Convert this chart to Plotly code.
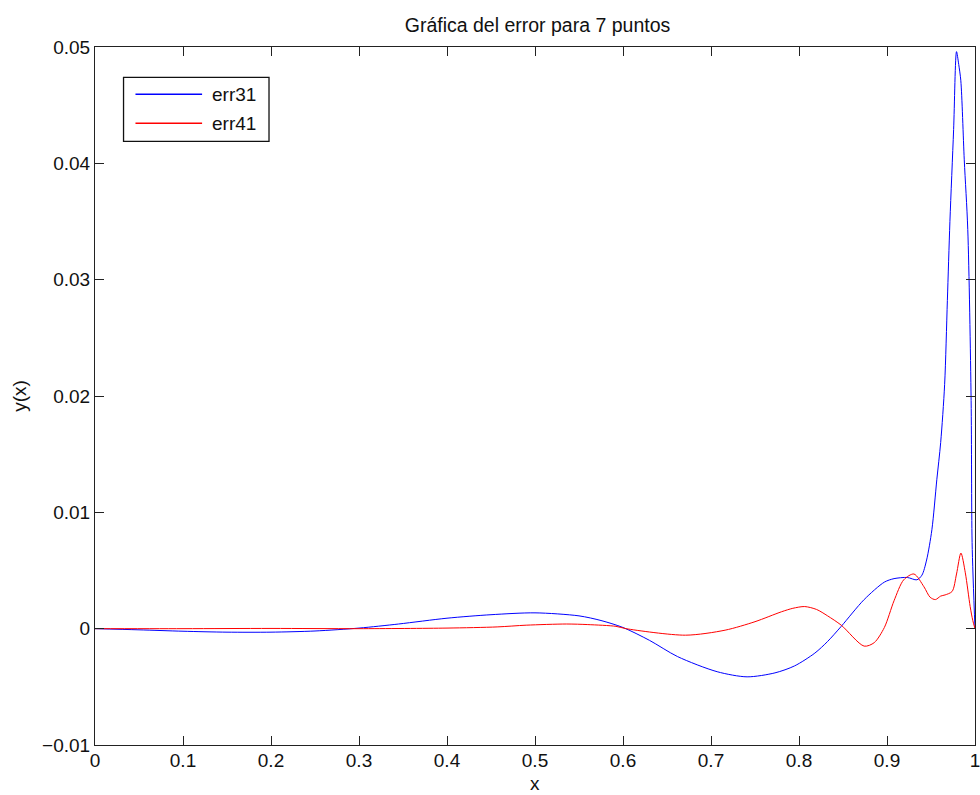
import plotly.graph_objects as go

# Error curves for the 7-point interpolation
x_err31 = [0.0, 0.05, 0.10, 0.15, 0.20, 0.25, 0.30, 0.345, 0.40, 0.45, 0.50, 0.55,
           0.575, 0.60, 0.63, 0.662, 0.707, 0.741, 0.7727, 0.795, 0.818, 0.8325,
           0.848, 0.874, 0.897, 0.908, 0.923, 0.934, 0.9397, 0.945, 0.951, 0.9566,
           0.961, 0.9655, 0.9686, 0.9715, 0.9757, 0.979, 0.9815, 0.9839,
           0.9878, 0.9918, 0.9956, 0.9967, 1.0]
y_err31 = [0.0, -0.0001, -0.00022, -0.0003, -0.0003, -0.0002, 0.00005, 0.0004, 0.0009,
           0.0012, 0.00136, 0.0011, 0.0007, 0.0001, -0.0010, -0.0024, -0.0037,
           -0.00414, -0.0038, -0.0032, -0.0021, -0.0011, 0.0002, 0.0025, 0.0040,
           0.0043, 0.0044, 0.0042, 0.0046, 0.0059, 0.0085, 0.0128, 0.0160, 0.0210,
           0.0282, 0.0350, 0.0429, 0.0496, 0.0485, 0.0471, 0.0403, 0.0343,
           0.0196, 0.0074, 0.0]

x_err41 = [0.0, 0.1, 0.2, 0.3, 0.4, 0.457, 0.49, 0.536, 0.56, 0.592, 0.6035, 0.671,
           0.716, 0.75, 0.78, 0.793, 0.8065, 0.82, 0.8325, 0.848, 0.874, 0.8855,
           0.897, 0.908, 0.919, 0.9306, 0.942, 0.949, 0.955, 0.961, 0.966, 0.974,
           0.979, 0.984, 0.989, 0.9945, 0.9975, 1.0]
y_err41 = [0.0, 0.0, 0.00002, 0.0, 0.00005, 0.00015, 0.0003, 0.0004, 0.00035, 0.0002,
           0.0, -0.00056, -0.00013, 0.0006, 0.00145, 0.00175, 0.0019, 0.00165, 0.0011,
           0.0003, -0.0015, -0.0012, 0.0001, 0.0024, 0.0042, 0.0047, 0.0036, 0.0027,
           0.0025, 0.0028, 0.0029, 0.0032, 0.0047, 0.0065, 0.0048, 0.0019, 0.0007, 0.0]

names = ["err31", "err41"]
colors = ["#0000ff", "#ff0000"]

x_ticks = [0, 0.1, 0.2, 0.3, 0.4, 0.5, 0.6, 0.7, 0.8, 0.9, 1]
x_tick_text = ["0", "0.1", "0.2", "0.3", "0.4", "0.5", "0.6", "0.7", "0.8", "0.9", "1"]
y_ticks = [-0.01, 0, 0.01, 0.02, 0.03, 0.04, 0.05]
y_tick_text = ["\u22120.01", "0", "0.01", "0.02", "0.03", "0.04", "0.05"]

W, H = 980, 795
L, R, T, B = 95, 0, 47, 50
FONT = "Liberation Sans, Arial, sans-serif"
TXT = "#111111"

fig = go.Figure()
for xs, ys, nm, c in [(x_err31, y_err31, names[0], colors[0]),
                      (x_err41, y_err41, names[1], colors[1])]:
    fig.add_trace(go.Scatter(x=xs, y=ys, mode="lines", name=nm,
                             line=dict(color=c, width=1, shape="spline", smoothing=0.8),
                             showlegend=False))

axis_common = dict(showline=True, linecolor="#222222", linewidth=1, mirror="ticks",
                   ticks="inside", ticklen=9, tickcolor="#222222", tickwidth=1,
                   showgrid=False, zeroline=False, ticklabeloverflow="allow",
                   tickfont=dict(family=FONT, size=19, color=TXT))

fig.update_xaxes(range=[0, 1], tickvals=x_ticks, ticktext=x_tick_text,
                 ticklabelstandoff=-2, **axis_common)
fig.update_yaxes(range=[-0.01, 0.05], tickvals=y_ticks, ticktext=y_tick_text,
                 title=dict(text="y(x)", font=dict(family=FONT, size=19, color=TXT),
                            standoff=10),
                 **axis_common)

# Pixel layout helpers (paper units)
pw, ph = W - L - R, H - T - B


def px_x(p):
    return (p - L) / pw


def px_y(p):
    return (H - B - p) / ph


# x-axis label
fig.add_annotation(xref="paper", yref="paper", x=0.5, y=px_y(783), text="x",
                   showarrow=False, xanchor="center", yanchor="middle",
                   font=dict(family=FONT, size=19, color=TXT))

# Boxed legend in the upper-left corner
fig.add_shape(type="rect", xref="paper", yref="paper",
              x0=px_x(123.7), x1=px_x(270), y0=px_y(141.3), y1=px_y(77.3),
              line=dict(color=TXT, width=1.3), fillcolor="white")
for i, (nm, c) in enumerate(zip(names, colors)):
    yy = px_y(94.3 + 29 * i)
    fig.add_shape(type="line", xref="paper", yref="paper",
                  x0=px_x(135.7), x1=px_x(202.7), y0=yy, y1=yy,
                  line=dict(color=c, width=1.5))
    fig.add_annotation(xref="paper", yref="paper", x=px_x(211), y=yy,
                       text=nm, showarrow=False, xanchor="left", yanchor="middle",
                       font=dict(family=FONT, size=19, color=TXT))

fig.update_layout(
    width=W, height=H, autosize=False,
    margin=dict(l=L, r=R, t=T, b=B, pad=0),
    paper_bgcolor="white", plot_bgcolor="white",
    title=dict(text="Gráfica del error para 7 puntos", x=(L + (W - R)) / 2 / W,
               xanchor="center", xref="container", yref="container",
               y=1 - 25.5 / H, yanchor="middle",
               font=dict(family=FONT, size=19.5, color=TXT)),
)

fig.write_html("out.html")
